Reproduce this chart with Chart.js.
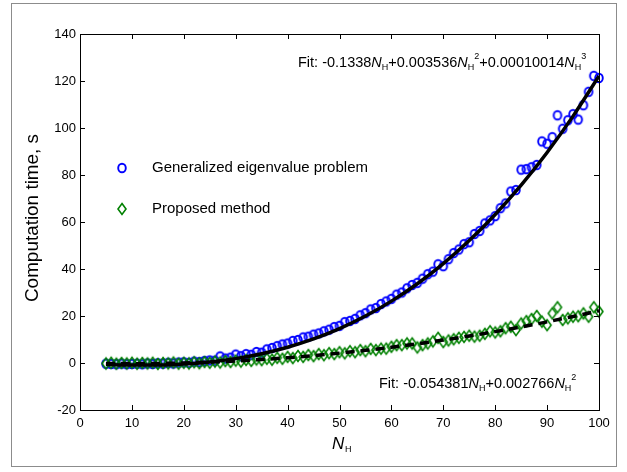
<!DOCTYPE html>
<html>
<head>
<meta charset="utf-8">
<script src="https://cdn.jsdelivr.net/npm/chart.js@4.4.1/dist/chart.umd.min.js"></script>
<style>
  html, body { margin: 0; padding: 0; background: #fff; }
  canvas { display: block; }
</style>
</head>
<body>
<canvas id="myChart" width="627" height="472"></canvas>
<script>
// sample sizes N_H (both methods measured at the same points)
const nH = [5,6,7,8,9,10,11,12,13,14,15,16,17,18,19,20,21,22,23,24,25,26,27,28,29,30,
  31,32,33,34,35,36,37,38,39,40,41,42,43,44,45,46,47,48,49,50,51,52,53,54,55,56,57,58,59,60,
  61,62,63,64,65,66,67,68,69,70,71,72,73,74,75,76,77,78,79,80,81,82,83,84,85,86,87,88,89,90,
  91,92,93,94,95,96,97,98,99,100];

// computation time, generalized eigenvalue problem (s)
const timeGep = [-0.3,-0.4,-0.5,-0.3,-0.5,-0.4,-0.3,-0.5,-0.2,-0.4,-0.1,-0.3,0.1,-0.2,0.2,0.3,0.1,0.6,0.4,0.9,
  1.1,1.0,2.8,1.9,2.3,3.6,2.9,3.8,3.5,4.7,4.4,5.8,6.4,7.2,7.9,8.3,9.4,9.8,10.9,11.2,
  12.1,12.6,13.5,14.2,15.3,15.8,17.4,17.9,18.8,20.3,21.2,22.8,23.4,25.1,26.2,27.3,29.1,30.0,31.8,33.2,
  34.1,35.9,37.8,38.9,42.0,41.2,44.2,46.8,48.3,50.6,51.4,54.9,56.2,59.4,60.7,62.5,65.9,67.9,73.0,73.6,
  82.3,82.5,83.3,84.3,94.3,93.3,96.1,105.4,99.7,103.3,105.9,103.6,109.7,115.4,122.2,121.3];

// computation time, proposed method (s)
const timeProp = [-0.2,0.1,-0.3,0.0,-0.2,0.1,-0.3,0.0,-0.2,0.1,-0.4,0.0,-0.2,0.2,-0.3,0.1,-0.2,0.3,-0.1,0.4,
  0.1,0.6,0.2,0.8,0.4,1.0,0.6,1.3,0.9,1.5,1.2,1.8,1.4,2.2,1.8,2.6,2.1,3.0,2.6,3.4,
  2.9,3.8,3.3,4.2,3.8,4.6,4.1,5.0,4.6,5.5,5.0,6.0,5.5,6.1,6.1,6.9,7.6,7.6,8.3,8.3,
  6.6,7.6,8.3,9.2,10.7,8.9,9.6,10.1,10.7,11.1,11.6,11.2,11.6,12.4,13.5,13.0,13.5,14.8,15.4,14.0,
  16.8,17.8,18.7,20.0,17.6,16.1,21.1,23.7,18.3,19.0,19.7,19.9,21.1,19.7,23.7,21.9];

// fitted curves, read at every 5 along N_H
const fitX = [5,10,15,20,25,30,35,40,45,50,55,60,65,70,75,80,85,90,95,100];
const fitGep = [-0.57,-0.88,-0.87,-0.46,0.43,1.87,3.94,6.72,10.26,14.67,20.0,26.33,33.74,42.31,52.10,63.20,75.67,89.60,105.06,122.12];
const fitProp = [-0.20,-0.27,-0.19,0.02,0.37,0.86,1.49,2.25,3.15,4.20,5.38,6.70,8.15,9.75,11.48,13.35,15.36,17.51,19.80,22.22];

const xTicks = [0,10,20,30,40,50,60,70,80,90,100];
const yTicks = [-20,0,20,40,60,80,100,120,140];

const FONT = '"Liberation Sans", Arial, sans-serif';
const BLUE = '#0000ff';
const GREEN = '#008000';

const pts = (xs, ys) => xs.map((x, i) => ({x: x, y: ys[i]}));

// markers are a bit taller than wide in the original figure
function makeMarker(kind) {
  const c = document.createElement('canvas');
  c.width = 14; c.height = 16;
  const g = c.getContext('2d');
  g.beginPath();
  if (kind === 'circle') {
    g.ellipse(7, 8, 3.8, 4.3, 0, 0, Math.PI * 2);
    g.strokeStyle = BLUE;
    g.lineWidth = 1.9;
  } else {
    g.moveTo(7, 2.5); g.lineTo(11, 8); g.lineTo(7, 13.5); g.lineTo(3, 8);
    g.closePath();
    g.strokeStyle = GREEN;
    g.lineWidth = 1.6;
  }
  g.stroke();
  return c;
}
const circleImg = makeMarker('circle');
const diamondImg = makeMarker('diamond');

// draws text with italic N, subscript H and superscript powers
function drawRich(ctx, x, y, parts) {
  ctx.textBaseline = 'alphabetic';
  ctx.textAlign = 'left';
  parts.forEach(p => {
    let dy = 0;
    if (p.s === 'i') ctx.font = 'italic 14.5px ' + FONT;
    else if (p.s === 'sub') { ctx.font = '9px ' + FONT; dy = 3; }
    else if (p.s === 'sup') { ctx.font = '9px ' + FONT; dy = -8; }
    else ctx.font = '14.5px ' + FONT;
    ctx.fillText(p.t, x, y + dy);
    x += ctx.measureText(p.t).width;
  });
}

const decor = {
  id: 'decor',
  afterDatasetsDraw(chart) {
    const {ctx, chartArea: a, scales: {x, y}} = chart;
    ctx.save();
    // axes box
    ctx.strokeStyle = '#000';
    ctx.lineWidth = 1;
    ctx.strokeRect(Math.round(a.left) + 0.5, Math.round(a.top) + 0.5,
      Math.round(a.right - a.left), Math.round(a.bottom - a.top));
    // inward ticks on all sides
    ctx.beginPath();
    xTicks.forEach(v => {
      const px = Math.round(x.getPixelForValue(v)) + 0.5;
      ctx.moveTo(px, a.bottom); ctx.lineTo(px, a.bottom - 5);
      ctx.moveTo(px, a.top); ctx.lineTo(px, a.top + 5);
    });
    yTicks.forEach(v => {
      const py = Math.round(y.getPixelForValue(v)) + 0.5;
      ctx.moveTo(a.left, py); ctx.lineTo(a.left + 5, py);
      ctx.moveTo(a.right, py); ctx.lineTo(a.right - 5, py);
    });
    ctx.stroke();

    ctx.fillStyle = '#000';
    // axis titles
    ctx.save();
    ctx.translate(33, 218);
    ctx.rotate(-Math.PI / 2);
    ctx.scale(1.08, 1);
    ctx.font = '17.5px ' + FONT;
    ctx.textAlign = 'center';
    ctx.textBaseline = 'middle';
    ctx.fillText('Computation time, s', 0, 0);
    ctx.restore();
    ctx.font = 'italic 17px ' + FONT;
    ctx.textBaseline = 'alphabetic';
    ctx.textAlign = 'left';
    ctx.fillText('N', 332, 449);
    ctx.font = '9px ' + FONT;
    ctx.fillText('H', 345, 452);

    // fit annotations
    drawRich(ctx, 298, 67, [
      {t: 'Fit: -0.1338'}, {t: 'N', s: 'i'}, {t: 'H', s: 'sub'},
      {t: '+0.003536'}, {t: 'N', s: 'i'}, {t: 'H', s: 'sub'}, {t: '2', s: 'sup'},
      {t: '+0.00010014'}, {t: 'N', s: 'i'}, {t: 'H', s: 'sub'}, {t: '3', s: 'sup'}
    ]);
    drawRich(ctx, 379, 388, [
      {t: 'Fit: -0.054381'}, {t: 'N', s: 'i'}, {t: 'H', s: 'sub'},
      {t: '+0.002766'}, {t: 'N', s: 'i'}, {t: 'H', s: 'sub'}, {t: '2', s: 'sup'}
    ]);

    // legend
    ctx.drawImage(circleImg, 122 - 7, 168 - 8);
    ctx.drawImage(diamondImg, 122 - 7, 209 - 8);
    ctx.font = '15px ' + FONT;
    ctx.textBaseline = 'middle';
    ctx.fillText('Generalized eigenvalue problem', 152, 168);
    ctx.fillText('Proposed method', 152, 209);

    // figure frame
    ctx.strokeStyle = '#8c8c8c';
    ctx.lineWidth = 1;
    ctx.strokeRect(11.5, 3.5, 605, 463);
    ctx.restore();
  }
};

new Chart(document.getElementById('myChart'), {
  type: 'scatter',
  data: {
    datasets: [
      {
        label: 'Fit GEP',
        type: 'line',
        data: pts(fitX, fitGep),
        borderColor: '#000',
        borderWidth: 3.5,
        pointRadius: 0,
        cubicInterpolationMode: 'monotone',
        fill: false,
        order: 0
      },
      {
        label: 'Fit proposed',
        type: 'line',
        data: pts(fitX, fitProp),
        borderColor: '#000',
        borderWidth: 3.5,
        borderDash: [9, 6],
        pointRadius: 0,
        cubicInterpolationMode: 'monotone',
        fill: false,
        order: 0
      },
      {
        label: 'Generalized eigenvalue problem',
        data: pts(nH, timeGep),
        pointStyle: circleImg,
        pointRadius: 5,
        clip: false,
        order: 2
      },
      {
        label: 'Proposed method',
        data: pts(nH, timeProp),
        pointStyle: diamondImg,
        pointRadius: 5,
        clip: false,
        order: 1
      }
    ]
  },
  options: {
    responsive: false,
    animation: false,
    layout: { padding: { left: 0, top: 34, right: 28, bottom: 0 } },
    plugins: {
      legend: { display: false },
      tooltip: { enabled: false }
    },
    scales: {
      x: {
        type: 'linear',
        min: 0,
        max: 100,
        afterFit: s => { s.height = 62; },
        afterBuildTicks: s => { s.ticks = xTicks.map(v => ({value: v})); },
        border: { display: false },
        grid: { display: false, drawTicks: false },
        ticks: { color: '#000', padding: 6, font: { family: FONT, size: 13 } }
      },
      y: {
        min: -20,
        max: 140,
        afterFit: s => { s.width = 80; },
        afterBuildTicks: s => { s.ticks = yTicks.map(v => ({value: v})); },
        border: { display: false },
        grid: { display: false, drawTicks: false },
        ticks: { color: '#000', padding: 4, font: { family: FONT, size: 13 } }
      }
    }
  },
  plugins: [decor]
});
</script>
</body>
</html>
